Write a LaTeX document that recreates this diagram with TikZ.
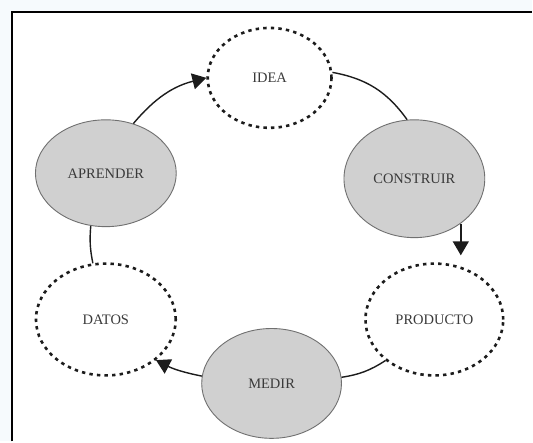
\documentclass[tikz,border=0pt]{standalone}
\usepackage{fontspec}
\setmainfont{Liberation Serif}
\usetikzlibrary{arrows.meta,shapes.geometric,calc}
\definecolor{outerbg}{HTML}{F6FAFD}
\definecolor{phasefill}{HTML}{D0D0D0}
\definecolor{phaseline}{HTML}{707070}
\definecolor{ink}{HTML}{1C1C1C}
\definecolor{labelink}{HTML}{3A3A3A}
\tikzset{
  phase/.style={ellipse, draw=phaseline, line width=0.9pt, fill=phasefill,
    inner sep=0pt, font=\fontsize{14.5}{16}\selectfont, text=labelink},
  artefact/.style={ellipse, draw=ink, line width=2.6pt,
    dash pattern=on 3.4pt off 4.2pt, fill=white,
    inner sep=0pt, font=\fontsize{14.5}{16}\selectfont, text=labelink},
  link/.style={draw=ink, line width=1.4pt},
  flow/.style={link, -{Triangle[length=14pt,width=16pt]}},
}
\begin{document}
\begin{tikzpicture}[x=1pt,y=1pt]
  % page and frame
  \fill[outerbg] (0,0) rectangle (533,442);
  \fill[white] (12,0) rectangle (533,430);
  \draw[black, line width=1.6pt] (12,0) -- (12,430) -- (533,430);
  \useasboundingbox (0,0) rectangle (533,442);

  % build-measure-learn cycle
  \node[artefact, minimum width=124pt, minimum height=100pt] (idea) at (270,364) {IDEA};
  \node[phase, minimum width=141pt, minimum height=118pt] (construir) at (415,263) {CONSTRUIR};
  \node[artefact, minimum width=138pt, minimum height=112pt] (producto) at (435,122) {PRODUCTO};
  \node[phase, minimum width=140pt, minimum height=110pt] (medir) at (272,58) {MEDIR};
  \node[artefact, minimum width=140pt, minimum height=112pt] (datos) at (106,122) {DATOS};
  \node[phase, minimum width=141pt, minimum height=107pt] (aprender) at (106,268.5) {APRENDER};

  % connectors
  \draw[link] (idea.5) to[bend left=22] (construir.97);
  \draw[flow, shorten >=7pt] (construir.-44) -- (construir.-44 |- producto.north);
  \draw[link] (producto.220) to[bend left=12] (medir.5);
  \draw[flow] (medir.174) to[bend left=8] (datos.-39);
  \draw[link] (datos.103) to[bend left=8] (aprender.-106);
  \draw[flow] (aprender.61) to[bend left=18] (idea.180);
\end{tikzpicture}
\end{document}
